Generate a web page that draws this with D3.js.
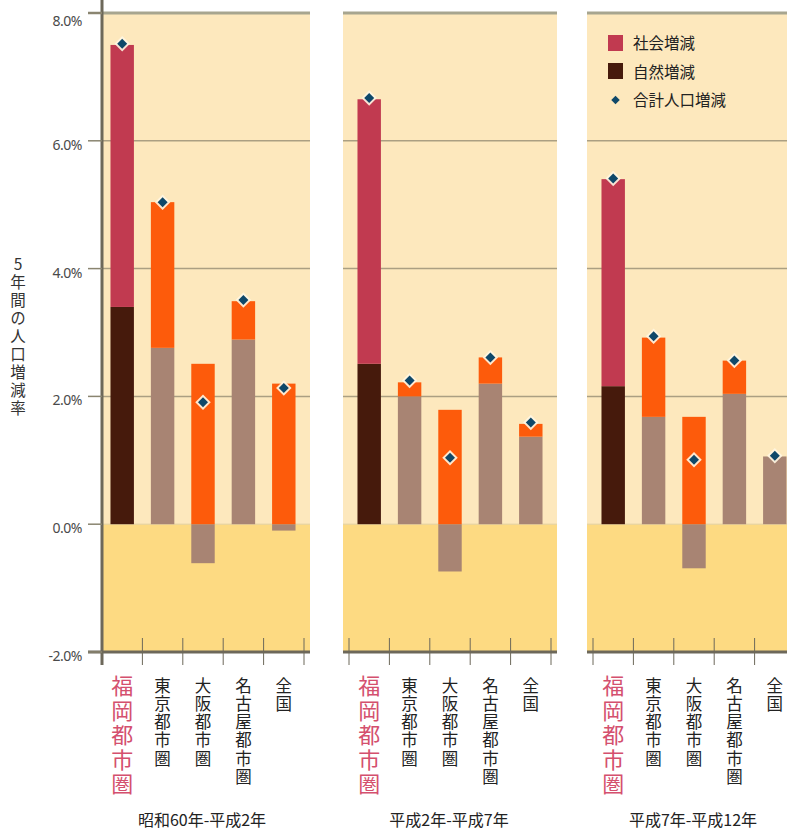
<!DOCTYPE html>
<html><head><meta charset="utf-8">
<script src="https://cdn.jsdelivr.net/npm/d3@7/dist/d3.min.js"></script>
<style>html,body{margin:0;padding:0;background:#fff;}svg{display:block;font-family:"Noto Sans CJK JP","Noto Sans",sans-serif;}
.vt{writing-mode:vertical-rl;text-orientation:upright;}</style>
</head><body>
<svg id="c" width="787" height="832"></svg>
<script>
const periods = ["昭和60年-平成2年", "平成2年-平成7年", "平成7年-平成12年"];
const regions = ["福岡都市圏", "東京都市圏", "大阪都市圏", "名古屋都市圏", "全国"];
const naturalChange = [
  [3.40, 2.76, -0.61, 2.89, -0.10],
  [2.51, 2.00, -0.74, 2.20, 1.37],
  [2.16, 1.68, -0.69, 2.04, 1.06]
];
const socialChange = [
  [4.10, 2.28, 2.51, 0.60, 2.20],
  [4.14, 0.22, 1.79, 0.41, 0.20],
  [3.24, 1.24, 1.68, 0.52, 0.00]
];
const totalChange = [
  [7.52, 5.04, 1.91, 3.51, 2.13],
  [6.67, 2.25, 1.04, 2.61, 1.59],
  [5.41, 2.94, 1.01, 2.56, 1.07]
];
const yTicks = [-2, 0, 2, 4, 6, 8];
const yTickLabels = ["-2.0%", "0.0%", "2.0%", "4.0%", "6.0%", "8.0%"];
const legendLabels = ["社会増減", "自然増減", "合計人口増減"];
const yTitle = "5年間の人口増減率";

const svg = d3.select("#c");
const y = d3.scaleLinear().domain([-2, 8]).range([652, 13]);
const panelX0 = [102, 349, 593];
const bandW = 202;
const colHi = {natural: "#461a0c", social: "#c13a50"};
const colLo = {natural: "#a88473", social: "#fd5b0b"};

const stack = d3.stack().keys(["natural", "social"]).offset(d3.stackOffsetDiverging);

periods.forEach((p, pi) => {
  const x0 = panelX0[pi];
  const x = d3.scaleBand().domain(regions).range([x0, x0 + bandW]).paddingInner(0.42).paddingOuter(0.21);
  const g = svg.append("g");
  const bgL = pi === 0 ? x0 + 1 : x0 - 6;
  const bgR = Math.min(x0 + 208, 787);
  g.append("rect").attr("x", bgL).attr("y", y(8)).attr("width", bgR - bgL).attr("height", y(0) - y(8)).attr("fill", "#fde8bd");
  g.append("rect").attr("x", bgL).attr("y", y(0)).attr("width", bgR - bgL).attr("height", y(-2) - y(0)).attr("fill", "#fdda82");
  [2, 4, 6].forEach(t => {
    g.append("line").attr("x1", bgL).attr("x2", bgR).attr("y1", y(t)).attr("y2", y(t)).attr("stroke", "#ab9f82").attr("stroke-width", 1.5);
  });
  g.append("line").attr("x1", bgL).attr("x2", bgR).attr("y1", y(8)).attr("y2", y(8)).attr("stroke", "#a7a58f").attr("stroke-width", 3);
  g.append("line").attr("x1", bgL).attr("x2", bgR).attr("y1", y(0)).attr("y2", y(0)).attr("stroke", "#e2cf9f").attr("stroke-width", 1);

  const rows = regions.map((r, i) => ({region: r, natural: naturalChange[pi][i], social: socialChange[pi][i], total: totalChange[pi][i], hi: i === 0}));
  const series = stack(rows);
  series.forEach(s => {
    g.selectAll(null).data(s).enter().append("rect")
      .attr("x", d => x(d.data.region))
      .attr("width", x.bandwidth())
      .attr("y", d => y(Math.max(d[0], d[1])))
      .attr("height", d => Math.abs(y(d[0]) - y(d[1])))
      .attr("fill", d => (d.data.hi ? colHi : colLo)[s.key]);
  });
  const halo = d3.symbol(d3.symbolSquare, 120);
  const dia = d3.symbol(d3.symbolSquare, 50);
  g.selectAll(null).data(rows).enter().append("path")
    .attr("d", halo).attr("fill", "#fff6e2").attr("opacity", 0.9)
    .attr("transform", d => `translate(${x(d.region) + x.bandwidth() / 2},${y(d.total)}) rotate(45)`);
  g.selectAll(null).data(rows).enter().append("path")
    .attr("d", dia).attr("fill", "#0f4869")
    .attr("transform", d => `translate(${x(d.region) + x.bandwidth() / 2},${y(d.total)}) rotate(45)`);

  const axL = pi === 0 ? 88 : x0 - 6;
  g.append("line").attr("x1", axL).attr("x2", bgR).attr("y1", y(-2)).attr("y2", y(-2)).attr("stroke", "#6d685a").attr("stroke-width", 3);
  d3.range(6).forEach(i => {
    const tx = x0 + x.step() * i;
    if (tx > 787) return;
    g.append("line").attr("x1", tx).attr("x2", tx).attr("y1", y(-2) - 14).attr("y2", y(-2) + 13).attr("stroke", "#6d685a").attr("stroke-width", 1);
  });
  rows.forEach(d => {
    const cx = x(d.region) + x.bandwidth() / 2;
    g.append("text").attr("class", "vt")
      .attr("x", cx).attr("y", d.hi ? 675 : 677)
      .attr("font-size", d.hi ? 22 : 16.5)
      .attr("letter-spacing", d.hi ? 2.5 : 1.8)
      .attr("fill", d.hi ? "#d4506e" : "#222")
      .text(d.region);
  });
  g.append("text").attr("x", x0 + bandW / 2 - 1).attr("y", 826).attr("text-anchor", "middle")
    .attr("font-size", 16).attr("fill", "#222").text(p);
});

svg.append("line").attr("x1", 102).attr("x2", 102).attr("y1", 0).attr("y2", 665).attr("stroke", "#6d685a").attr("stroke-width", 3);
yTicks.forEach((t, i) => {
  svg.append("line").attr("x1", 88).attr("x2", 102).attr("y1", y(t)).attr("y2", y(t)).attr("stroke", "#8a8570").attr("stroke-width", t === 8 ? 2.5 : 1.5);
  svg.append("text").attr("x", 82).attr("y", y(t) + (t === 8 ? 13 : 9)).attr("text-anchor", "end")
    .attr("font-size", 14).attr("fill", "#4a4a4a").attr("font-family", "Noto Sans, sans-serif").attr("letter-spacing", -0.5)
    .text(yTickLabels[i]);
});
svg.append("text").attr("class", "vt").attr("x", 18).attr("y", 256)
  .attr("font-size", 15.5).attr("letter-spacing", 2.6).attr("fill", "#333").text(yTitle);

const lg = svg.append("g");
lg.append("rect").attr("x", 608).attr("y", 35).attr("width", 15).attr("height", 16).attr("fill", colHi.social);
lg.append("rect").attr("x", 608).attr("y", 63).attr("width", 15).attr("height", 16).attr("fill", colHi.natural);
lg.append("path").attr("d", d3.symbol(d3.symbolSquare, 36)).attr("fill", "#0f4869").attr("transform", "translate(615.5,100) rotate(45)");
legendLabels.forEach((l, i) => {
  lg.append("text").attr("x", 633).attr("y", 49 + i * 28.5).attr("font-size", 15.5).attr("fill", "#222").text(l);
});
</script>
</body></html>
